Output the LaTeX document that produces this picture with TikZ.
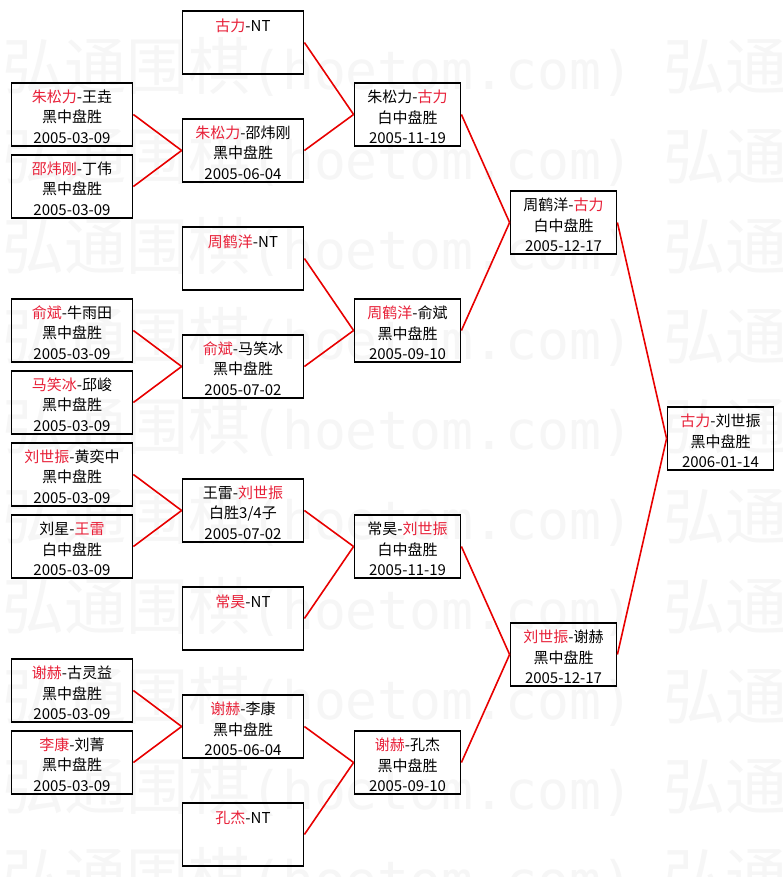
\documentclass[tikz,border=0pt]{standalone}
\usepackage{fontspec}
\setmainfont{Noto Sans CJK SC}
\newfontfamily\wmcjk{Noto Sans CJK SC}
\newfontfamily\wmmono{DejaVu Sans Mono}
\definecolor{txtred}{RGB}{232,32,56}
\definecolor{linered}{RGB}{232,0,0}
\newcommand{\R}[1]{\textcolor{txtred}{#1}}
\newcommand{\ls}{\rule[-1pt]{0pt}{19pt}}
\newcommand{\T}[3]{\ls#1\\\ls#2\\\ls#3}
\begin{document}
\begin{tikzpicture}[x=1pt,y=-1pt,
  box/.style={draw=black, line width=1.8pt, minimum height=63.5pt, align=center,
    font=\fontsize{15}{19}\selectfont, inner sep=0pt},
  wbox/.style={box, minimum width=121pt},
  nbox/.style={box, minimum width=106pt},
  link/.style={draw=linered, line width=1.6pt},
  wm/.style={text=black!3.5, inner sep=0pt, anchor=west}]
\useasboundingbox[fill=white] (0,0) rectangle (783,877);
% watermark
\foreach \r in {0,...,9} {
  \node[wm] (wm\r) at (2,67+90*\r) {{\wmcjk\fontsize{62}{62}\selectfont 弘通围棋}{\wmmono\fontsize{53}{53}\selectfont (hoetom.com)}\hspace{30pt}{\wmcjk\fontsize{62}{62}\selectfont 弘通}};
}
% column 1
\node[wbox] (a1) at (72,114.5) {\T{\R{朱松力}-王垚}{黑中盘胜}{2005-03-09}};
\node[wbox] (a2) at (72,186.5) {\T{\R{邵炜刚}-丁伟}{黑中盘胜}{2005-03-09}};
\node[wbox] (a3) at (72,330.5) {\T{\R{俞斌}-牛雨田}{黑中盘胜}{2005-03-09}};
\node[wbox] (a4) at (72,402.5) {\T{\R{马笑冰}-邱峻}{黑中盘胜}{2005-03-09}};
\node[wbox] (a5) at (72,474.5) {\T{\R{刘世振}-黄奕中}{黑中盘胜}{2005-03-09}};
\node[wbox] (a6) at (72,546.5) {\T{刘星-\R{王雷}}{白中盘胜}{2005-03-09}};
\node[wbox] (a7) at (72,690.5) {\T{\R{谢赫}-古灵益}{黑中盘胜}{2005-03-09}};
\node[wbox] (a8) at (72,762.5) {\T{\R{李康}-刘菁}{黑中盘胜}{2005-03-09}};
% column 2
\node[wbox] (b1) at (243,42.5) {\T{\R{古力}-NT}{}{}};
\node[wbox] (b2) at (243,150.5) {\T{\R{朱松力}-邵炜刚}{黑中盘胜}{2005-06-04}};
\node[wbox] (b3) at (243,258.5) {\T{\R{周鹤洋}-NT}{}{}};
\node[wbox] (b4) at (243,366.5) {\T{\R{俞斌}-马笑冰}{黑中盘胜}{2005-07-02}};
\node[wbox] (b5) at (243,510.5) {\T{王雷-\R{刘世振}}{白胜3/4子}{2005-07-02}};
\node[wbox] (b6) at (243,618.5) {\T{\R{常昊}-NT}{}{}};
\node[wbox] (b7) at (243,726.5) {\T{\R{谢赫}-李康}{黑中盘胜}{2005-06-04}};
\node[wbox] (b8) at (243,834.5) {\T{\R{孔杰}-NT}{}{}};
% column 3
\node[nbox] (c1) at (407.5,114.5) {\T{朱松力-\R{古力}}{白中盘胜}{2005-11-19}};
\node[nbox] (c2) at (407.5,330.5) {\T{\R{周鹤洋}-俞斌}{黑中盘胜}{2005-09-10}};
\node[nbox] (c3) at (407.5,546.5) {\T{常昊-\R{刘世振}}{白中盘胜}{2005-11-19}};
\node[nbox] (c4) at (407.5,762.5) {\T{\R{谢赫}-孔杰}{黑中盘胜}{2005-09-10}};
% column 4
\node[nbox] (d1) at (563.5,222.5) {\T{周鹤洋-\R{古力}}{白中盘胜}{2005-12-17}};
\node[nbox] (d2) at (563.5,654.5) {\T{\R{刘世振}-谢赫}{黑中盘胜}{2005-12-17}};
% column 5
\node[nbox] (e1) at (720.5,438.5) {\T{\R{古力}-刘世振}{黑中盘胜}{2006-01-14}};
% connectors
\foreach \s/\t in {a1/b2,a2/b2,a3/b4,a4/b4,a5/b5,a6/b5,a7/b7,a8/b7,
  b1/c1,b2/c1,b3/c2,b4/c2,b5/c3,b6/c3,b7/c4,b8/c4,
  c1/d1,c2/d1,c3/d2,c4/d2,d1/e1,d2/e1}
  \draw[link] (\s.east) -- (\t.west);
\end{tikzpicture}
\end{document}
